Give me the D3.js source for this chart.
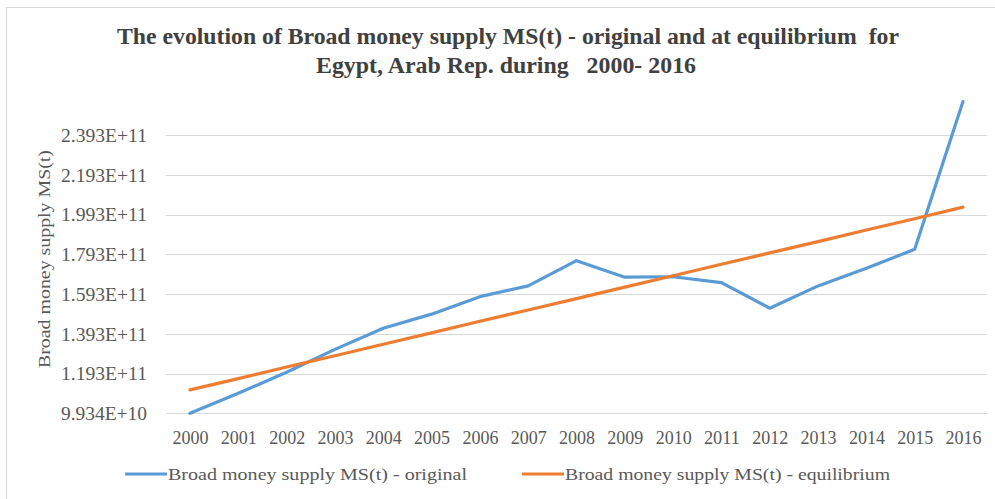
<!DOCTYPE html>
<html>
<head>
<meta charset="utf-8">
<script src="https://cdn.jsdelivr.net/npm/d3@7"></script>
<style>
  html, body { margin: 0; padding: 0; background: #fff; }
  svg { display: block; }
  text { font-family: "Liberation Serif", "Times New Roman", serif; }
</style>
</head>
<body>
<svg id="chart" width="995" height="499"></svg>
<script>
const years = ["2000","2001","2002","2003","2004","2005","2006","2007","2008","2009","2010","2011","2012","2013","2014","2015","2016"];
const original = [0.9934e11, 1.094e11, 1.200e11, 1.315e11, 1.421e11, 1.492e11, 1.580e11, 1.634e11, 1.761e11, 1.678e11, 1.680e11, 1.651e11, 1.522e11, 1.634e11, 1.723e11, 1.818e11, 2.561e11];
const equilibrium = [1.111e11, 1.168e11, 1.226e11, 1.283e11, 1.341e11, 1.398e11, 1.456e11, 1.513e11, 1.570e11, 1.628e11, 1.685e11, 1.743e11, 1.800e11, 1.857e11, 1.915e11, 1.972e11, 2.030e11];
const yTickValues = [0.9934e11, 1.193e11, 1.393e11, 1.593e11, 1.793e11, 1.993e11, 2.193e11, 2.393e11];
const yTickLabels = ["9.934E+10", "1.193E+11", "1.393E+11", "1.593E+11", "1.793E+11", "1.993E+11", "2.193E+11", "2.393E+11"];
const seriesNames = ["Broad money supply MS(t) - original", "Broad money supply MS(t) - equilibrium"];
const titleLines = ["The evolution of Broad money supply MS(t) - original and at equilibrium  for", "Egypt, Arab Rep. during   2000- 2016"];
const yAxisTitle = "Broad money supply MS(t)";

const svg = d3.select("#chart");

// outer chart border
svg.append("rect").attr("x", 6.5).attr("y", 7.5).attr("width", 1000).attr("height", 600)
  .attr("fill", "none").attr("stroke", "#d9d9d9").attr("stroke-width", 1);

const plot = { left: 166, right: 987 };

const x = d3.scalePoint().domain(years).range([190, 963]);
const y = d3.scaleLinear().domain([0.9934e11, 2.393e11]).range([413.3, 135]);

// Title
const titleSpec = [
  { t: titleLines[0], cx: 508, base: 44, w: 782 },
  { t: titleLines[1], cx: 506, base: 73, w: 380 }
];
titleSpec.forEach(s => {
  svg.append("text").attr("x", s.cx).attr("y", s.base)
    .attr("text-anchor", "middle")
    .attr("font-size", 23).attr("font-weight", "bold").attr("fill", "#404040")
    .attr("textLength", s.w).attr("lengthAdjust", "spacingAndGlyphs")
    .style("white-space", "pre")
    .text(s.t);
});

// Gridlines
svg.append("g").selectAll("line").data(yTickValues).join("line")
  .attr("x1", plot.left).attr("x2", plot.right)
  .attr("y1", d => Math.round(y(d)) + 0.5).attr("y2", d => Math.round(y(d)) + 0.5)
  .attr("stroke", "#d9d9d9").attr("stroke-width", 1);

// Y axis labels
const yAxis = d3.axisLeft(y).tickValues(yTickValues)
  .tickFormat((d, i) => yTickLabels[i]).tickSize(0).tickPadding(0);
const yg = svg.append("g").attr("transform", `translate(147,0)`).call(yAxis);
yg.select(".domain").remove();
yg.selectAll("text")
  .attr("font-family", "Liberation Serif, serif")
  .attr("font-size", 18).attr("fill", "#595959")
  .attr("dy", "0.35em")
  .attr("textLength", 86).attr("lengthAdjust", "spacingAndGlyphs");

// X axis labels
const xAxis = d3.axisBottom(x).tickSize(0).tickPadding(0);
const xg = svg.append("g").attr("transform", `translate(0,431)`).call(xAxis);
xg.select(".domain").remove();
xg.selectAll("text")
  .attr("font-family", "Liberation Serif, serif")
  .attr("font-size", 18).attr("fill", "#595959")
  .attr("dy", "0.71em")
  .attr("textLength", 36).attr("lengthAdjust", "spacingAndGlyphs");

// Y axis title
svg.append("text")
  .attr("transform", "translate(50,259) rotate(-90)")
  .attr("text-anchor", "middle")
  .attr("font-size", 17).attr("fill", "#595959")
  .attr("textLength", 218).attr("lengthAdjust", "spacingAndGlyphs")
  .text(yAxisTitle);

// Lines
const line = d3.line().x((d, i) => x(years[i])).y(d => y(d));
const colors = ["#5b9bd5", "#ed7d31"];
[original, equilibrium].forEach((s, k) => {
  svg.append("path").datum(s)
    .attr("d", line)
    .attr("fill", "none")
    .attr("stroke", colors[k])
    .attr("stroke-width", 3.2)
    .attr("stroke-linejoin", "round")
    .attr("stroke-linecap", "round");
});

// Legend
const legSpec = [
  { x1: 125, x2: 167, tx: 168, w: 299 },
  { x1: 522, x2: 564, tx: 565, w: 325 }
];
const legY = 474;
legSpec.forEach((s, k) => {
  svg.append("line").attr("x1", s.x1).attr("x2", s.x2).attr("y1", legY).attr("y2", legY)
    .attr("stroke", colors[k]).attr("stroke-width", 3.2);
  svg.append("text").attr("x", s.tx).attr("y", legY).attr("dy", "0.35em")
    .attr("font-size", 17).attr("fill", "#595959")
    .attr("textLength", s.w).attr("lengthAdjust", "spacingAndGlyphs")
    .text(seriesNames[k]);
});
</script>
</body>
</html>
